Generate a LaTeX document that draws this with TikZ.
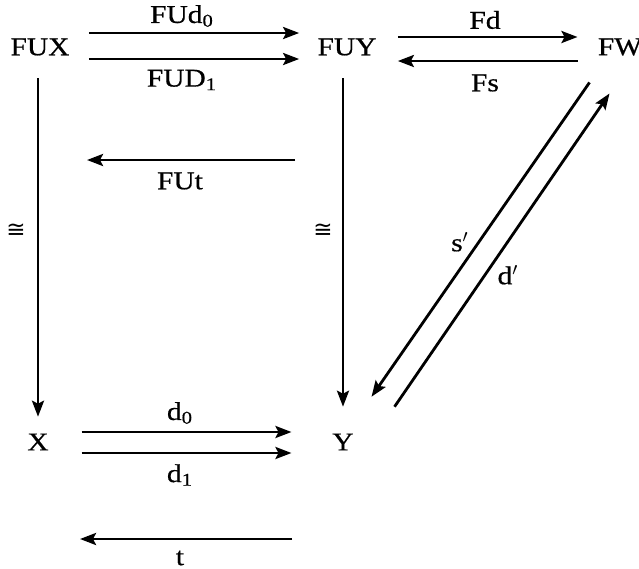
\documentclass[tikz,border=0pt]{standalone}
\usepackage{fontspec}
\setmainfont{Liberation Serif}[FakeStretch=1.15,FakeBold=0.6]
\newfontfamily\isofont{DejaVu Sans}
\usetikzlibrary{arrows.meta,calc}

\begin{document}
\begin{tikzpicture}[x=0.5pt,y=-0.5pt]
  \tikzstyle{object}=[inner sep=0pt,font=\fontsize{12.8}{15}\selectfont]
  \tikzstyle{maplabel}=[object]
  \tikzstyle{iso}=[inner sep=0pt,font=\isofont\fontsize{11.5}{13}\selectfont]
  \tikzstyle{map}=[draw,line width=1.4pt,-{Stealth[length=8pt,width=6pt,inset=1.5pt]}]

  \useasboundingbox (0,0) rectangle (639,569);

  \node[object] (FUX) at (40,47) {FUX};
  \node[object] (FUY) at (347,47) {FUY};
  \node[object] (FW) at (620,47) {FW};
  \node[object] (X) at (38,442) {X};
  \node[object] (Y) at (343,442) {Y};

  \coordinate (fut-from) at (295,160);
  \coordinate (fut-to) at (87,160);
  \coordinate (t-from) at (292,539);
  \coordinate (t-to) at (80,539);

  % top row
  \draw[map] ($(FUX.east)+(19,-14)$) -- ($(FUY.west)+(-18,-14)$);
  \draw[map] ($(FUX.east)+(19,12)$) -- ($(FUY.west)+(-18,12)$);
  \draw[map] ($(FUY.east)+(21,-10)$) -- ($(FW.west)+(-20,-10)$);
  \draw[map] ($(FW.west)+(-20,14)$) -- ($(FUY.east)+(21,14)$);
  \draw[map] (fut-from) -- (fut-to);

  % verticals
  \draw[map, shorten <=11.25pt, shorten >=8.25pt] (X |- FUX.south) -- (X.north);
  \draw[map, shorten <=11.25pt, shorten >=13.25pt] (Y |- FUY.south) -- (Y.north);

  % bottom row
  \draw[map] ($(X.east)+(32.5,-10)$) -- ($(Y.west)+(-40.5,-10)$);
  \draw[map] ($(X.east)+(32.5,11)$) -- ($(Y.west)+(-40.5,11)$);
  \draw[map] (t-from) -- (t-to);

  % diagonals
  \draw[map] ($(FW.south west)+(-8,26.5)$) -- ($(Y.north east)+(17.5,-36.5)$);
  \draw[map] ($(Y.north east)+(40.5,-26.5)$) -- ($(FW.south west)+(12,37.5)$);

  \node[maplabel] (l-fud0) at (182,16) {FUd\textsubscript{0}};
  \node[maplabel] (l-fud1) at (182,80) {FUD\textsubscript{1}};
  \node[maplabel] (l-fd) at (485,20) {Fd};
  \node[maplabel] (l-fs) at (485,83) {Fs};
  \node[maplabel] (l-fut) at (180,181) {FUt};
  \node[iso] (l-iso1) at (16,231) {≅};
  \node[iso] (l-iso2) at (323,231) {≅};
  \node[maplabel] (l-s) at (460,242) {s$'$};
  \node[maplabel] (l-d) at (508,275) {d$'$};
  \node[maplabel] (l-d0) at (180,413) {d\textsubscript{0}};
  \node[maplabel] (l-d1) at (180,475) {d\textsubscript{1}};
  \node[maplabel] (l-t) at (180,558) {t};
\end{tikzpicture}
\end{document}
